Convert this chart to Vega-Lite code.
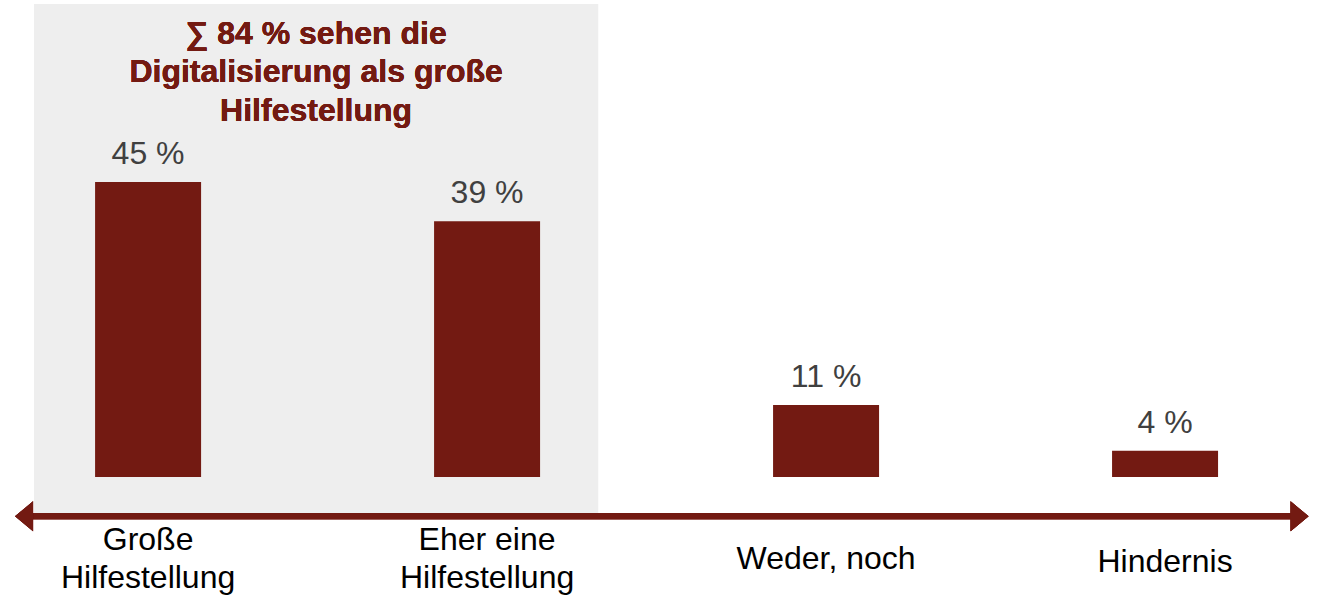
{
  "$schema": "https://vega.github.io/schema/vega-lite/v6.json",
  "autosize": {"type": "none"},
  "width": 1324,
  "height": 595,
  "padding": 0,
  "background": "#ffffff",
  "config": {"view": {"stroke": null}, "font": "Liberation Sans"},
  "data": {
    "values": [
      {"kategorie": "Große Hilfestellung", "label": ["Große", "Hilfestellung"], "anteil": 45},
      {"kategorie": "Eher eine Hilfestellung", "label": ["Eher eine", "Hilfestellung"], "anteil": 39},
      {"kategorie": "Weder, noch", "label": ["Weder, noch"], "anteil": 11},
      {"kategorie": "Hindernis", "label": ["Hindernis"], "anteil": 4}
    ]
  },
  "layer": [
    {
      "mark": {"type": "rect", "color": "#eeeeee"},
      "encoding": {
        "x": {"datum": "Große Hilfestellung", "type": "nominal", "bandPosition": -0.5755,
          "axis": null,
          "scale": {"domain": ["Große Hilfestellung", "Eher eine Hilfestellung", "Weder, noch", "Hindernis"], "paddingInner": 0.6873, "paddingOuter": 0.2965, "align": 0.473}},
        "x2": {"datum": "Eher eine Hilfestellung", "bandPosition": 1.547},
        "y": {"datum": 72.15, "type": "quantitative", "axis": null, "scale": {"domain": [-18, 72.76], "nice": false, "zero": false}},
        "y2": {"datum": -6}
      }
    },
    {
      "mark": {"type": "rule", "color": "#731a12", "strokeWidth": 6},
      "encoding": {
        "x": {"datum": "Große Hilfestellung", "type": "nominal", "bandPosition": -0.67},
        "x2": {"datum": "Hindernis", "bandPosition": 1.769},
        "y": {"datum": -6, "type": "quantitative"}
      }
    },
    {
      "mark": {"type": "point", "shape": "M-0.6,0L0.6,-1L0.6,1Z", "size": 900, "filled": true, "opacity": 1, "color": "#731a12", "strokeWidth": 0},
      "encoding": {
        "x": {"datum": "Große Hilfestellung", "type": "nominal", "bandPosition": -0.67},
        "y": {"datum": -6, "type": "quantitative"}
      }
    },
    {
      "mark": {"type": "point", "shape": "M0.6,0L-0.6,-1L-0.6,1Z", "size": 900, "filled": true, "opacity": 1, "color": "#731a12", "strokeWidth": 0},
      "encoding": {
        "x": {"datum": "Hindernis", "type": "nominal", "bandPosition": 1.769},
        "y": {"datum": -6, "type": "quantitative"}
      }
    },
    {
      "mark": {"type": "bar", "color": "#731a12"},
      "encoding": {
        "x": {"field": "kategorie", "type": "nominal"},
        "y": {"field": "anteil", "type": "quantitative"}
      }
    },
    {
      "transform": [{"calculate": "datum.anteil + ' %'", "as": "anteil_text"}],
      "mark": {"type": "text", "fontSize": 32, "color": "#404040", "baseline": "alphabetic", "dy": -18},
      "encoding": {
        "x": {"field": "kategorie", "type": "nominal"},
        "y": {"field": "anteil", "type": "quantitative"},
        "text": {"field": "anteil_text"}
      }
    },
    {
      "transform": [{"filter": "length(datum.label) > 1"}],
      "mark": {"type": "text", "fontSize": 32, "color": "#000000", "baseline": "alphabetic", "lineHeight": 38},
      "encoding": {
        "x": {"field": "kategorie", "type": "nominal"},
        "y": {"datum": -11.1, "type": "quantitative"},
        "text": {"field": "label"}
      }
    },
    {
      "transform": [{"filter": "datum.kategorie === 'Weder, noch'"}],
      "mark": {"type": "text", "fontSize": 32, "color": "#000000", "baseline": "alphabetic"},
      "encoding": {
        "x": {"field": "kategorie", "type": "nominal"},
        "y": {"datum": -14.1, "type": "quantitative"},
        "text": {"field": "label"}
      }
    },
    {
      "transform": [{"filter": "datum.kategorie === 'Hindernis'"}],
      "mark": {"type": "text", "fontSize": 32, "color": "#000000", "baseline": "alphabetic"},
      "encoding": {
        "x": {"field": "kategorie", "type": "nominal"},
        "y": {"datum": -14.55, "type": "quantitative"},
        "text": {"field": "label"}
      }
    },
    {
      "mark": {"type": "text", "fontSize": 32, "fontWeight": "bold", "color": "#731a12", "baseline": "alphabetic", "lineHeight": 38.5, "text": ["∑ 84 % sehen die", "Digitalisierung als große", "Hilfestellung"]},
      "encoding": {
        "x": {"datum": "Große Hilfestellung", "type": "nominal", "bandPosition": 2.085},
        "y": {"datum": 66.1, "type": "quantitative"}
      }
    }
  ]
}
